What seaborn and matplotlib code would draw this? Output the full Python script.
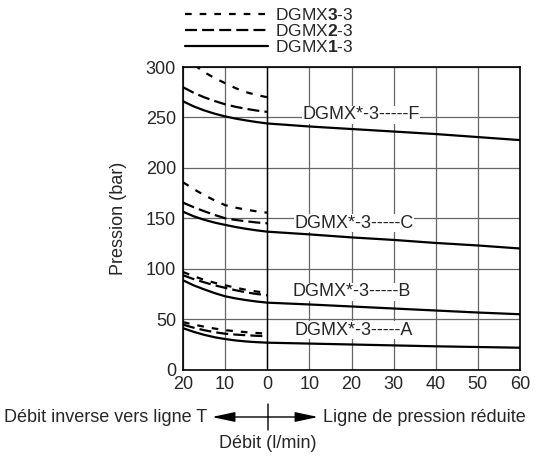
import numpy as np
import pandas as pd
import matplotlib.pyplot as plt
import seaborn as sb
from matplotlib.lines import Line2D

# débit (l/min) : négatif = débit inverse vers T
debit_retour = [-20, -17.5, -15, -12.5, -10, -7.5, -5, -2.5, 0]
debit_aller = [10, 20, 30, 40, 50, 60]

# DGMX1-3 (trait plein) de -20 à 60
F1 = [266, 261, 257, 253.7, 251, 248.8, 247, 245.4, 244,
      241, 238.5, 236, 233.5, 230.5, 227.5]
C1 = [156.5, 152, 148.5, 145.7, 143.4, 141.3, 139.5, 138, 136.7,
      134, 131, 128.5, 125.5, 123, 120]
B1 = [88.5, 83.5, 79.5, 75.8, 72.6, 70.5, 68.8, 67.4, 66.3,
      64.5, 62.5, 60.5, 58.5, 56.5, 54.8]
A1 = [41, 37.4, 34.4, 32, 30.2, 28.8, 27.8, 27.1, 26.6,
      25.7, 24.8, 23.9, 23, 22.3, 21.6]
# DGMX2-3 (tirets longs) de -20 à 0
F2 = [280, 274.5, 270, 266.3, 263, 260.5, 258.5, 256.8, 255.5]
C2 = [165.5, 161, 157, 153.3, 150, 148.3, 147, 145.8, 145]
B2 = [93.5, 89.7, 86.5, 83.5, 81, 78.6, 76.5, 74.9, 73.6]
A2 = [44.5, 41.5, 39, 37, 35.5, 34.6, 34, 33.4, 33]
# DGMX3-3 (tirets courts) de -20 à 0
F3 = [311, 302.5, 295, 289, 284, 279, 275, 272.2, 270]
C3 = [185.7, 179, 173, 167.7, 163, 160.5, 158.5, 156.8, 155.5]
B3 = [96.7, 92.5, 89, 86, 83.5, 81.1, 79, 77.3, 76]
A3 = [47, 44.5, 42.5, 40.6, 39, 38, 37, 36.2, 35.5]

x_ticks = [-20, -10, 0, 10, 20, 30, 40, 50, 60]
x_labels = ['20', '10', '0', '10', '20', '30', '40', '50', '60']
y_ticks = [0, 50, 100, 150, 200, 250, 300]

# positions des étiquettes (x, y)
etiquettes = {'F': (8.3, 252.5), 'C': (6.4, 145), 'B': (5.9, 77), 'A': (6.4, 39)}

rows = []
for fam, s1, s2, s3 in [('F', F1, F2, F3), ('C', C1, C2, C3),
                        ('B', B1, B2, B3), ('A', A1, A2, A3)]:
    for x, y in zip(debit_retour + debit_aller, s1):
        rows.append((fam, '1', x, y))
    for x, y in zip(debit_retour, s2):
        rows.append((fam, '2', x, y))
    for x, y in zip(debit_retour, s3):
        rows.append((fam, '3', x, y))
df = pd.DataFrame(rows, columns=['famille', 'taille', 'debit', 'pression'])
df['courbe'] = df['famille'] + df['taille']

sb.set_style('white')
plt.rcParams['font.family'] = ['Liberation Sans', 'DejaVu Sans']
plt.rcParams['mathtext.fontset'] = 'custom'
plt.rcParams['mathtext.rm'] = 'Liberation Sans'
plt.rcParams['mathtext.bf'] = 'Liberation Sans:bold'

fs = 13
lw = 1.6
tirets = {'1': '', '2': (5.4, 2.3), '3': (3.0, 3.6)}

fig = plt.figure(figsize=(5.36, 4.58), dpi=100)
ax = fig.add_axes([183/536, 1 - 369.5/458, 337/536, 302.5/458])

sb.lineplot(data=df, x='debit', y='pression', style='taille', units='courbe',
            estimator=None, sort=False, color='black', dashes=tirets,
            linewidth=lw, legend=False, ax=ax)

ax.set_xlim(-20, 60)
ax.set_ylim(0, 300)
ax.set_xticks(x_ticks)
ax.set_xticklabels(x_labels)
ax.set_yticks(y_ticks)
ax.tick_params(labelsize=fs, length=3, width=1, color='black', pad=2)
ax.set_axisbelow(True)
ax.grid(True, color='#666666', linewidth=0.9)
ax.axvline(0, color='black', linewidth=1.0, zorder=1)
for sp in ax.spines.values():
    sp.set_color('black')
    sp.set_linewidth(1.2)

ax.set_xlabel('')
ax.set_ylabel('Pression (bar)', fontsize=fs)
ax.yaxis.set_label_coords(-0.165, 0.5)

for fam, (x, y) in etiquettes.items():
    ax.text(x, y, 'DGMX*-3-----' + fam, fontsize=fs, va='center', ha='left',
            zorder=1.5, bbox=dict(facecolor='white', edgecolor='none', pad=0.3))

handles = [Line2D([], [], color='black', lw=lw, dashes=tirets['3']),
           Line2D([], [], color='black', lw=lw, dashes=tirets['2']),
           Line2D([], [], color='black', lw=lw, linestyle='-')]
labels = ['DGMX$\\mathbf{3}$-3', 'DGMX$\\mathbf{2}$-3', 'DGMX$\\mathbf{1}$-3']
fig.legend(handles, labels, loc='upper left', bbox_to_anchor=(185/536, 1 - 7/458),
           frameon=False, fontsize=fs - 0.5, handlelength=4.8, handletextpad=0.4,
           labelspacing=0.0, borderpad=0, borderaxespad=0)

# légende du débit sous l'axe
y_fl = 1 - 417/458
fig.text(207/536, y_fl, 'Débit inverse vers ligne T', fontsize=fs, ha='right', va='center')
fig.text(323/536, y_fl, 'Ligne de pression réduite', fontsize=fs, ha='left', va='center')
fig.text(268/536, 1 - 443/458, 'Débit (l/min)', fontsize=fs, ha='center', va='center')
fleche = dict(arrowstyle='-|>,head_length=1.4,head_width=0.3', color='black', lw=1,
              shrinkA=0, shrinkB=0)
ax.annotate('', xy=(212/536, y_fl), xytext=(268/536, y_fl),
            xycoords='figure fraction', arrowprops=fleche)
ax.annotate('', xy=(318/536, y_fl), xytext=(268/536, y_fl),
            xycoords='figure fraction', arrowprops=fleche)
ax.annotate('', xy=(268/536, 1 - 404/458), xytext=(268/536, 1 - 430/458),
            xycoords='figure fraction',
            arrowprops=dict(arrowstyle='-', color='black', lw=1, shrinkA=0, shrinkB=0))

fig.savefig('out.png', dpi=100)
